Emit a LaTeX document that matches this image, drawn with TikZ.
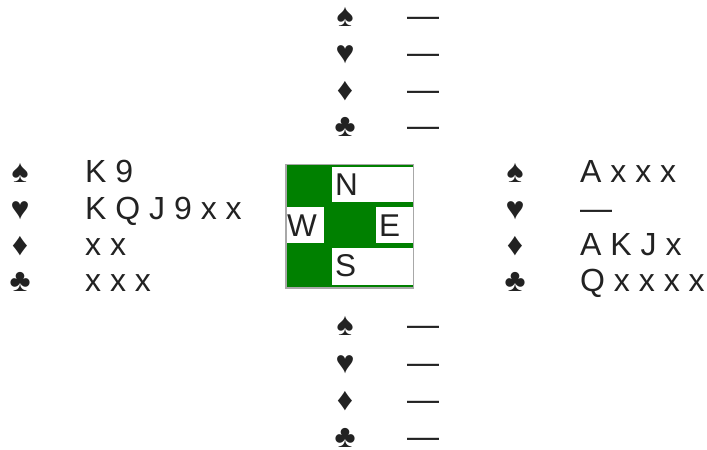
\documentclass[tikz,border=0pt]{standalone}
\usepackage{fontspec}
\setmainfont{Liberation Sans}
\definecolor{ink}{HTML}{222222}
\definecolor{felt}{HTML}{008000}
\definecolor{rim}{HTML}{A8A8A8}
\tikzset{
  suit/.style={anchor=base, inner sep=0pt, text=ink, font=\fontsize{32bp}{38bp}\selectfont},
  cards/.style={anchor=base west, inner sep=0pt, text=ink, font=\fontsize{32bp}{38bp}\selectfont},
  cell/.style={fill=white, draw=none, inner sep=0pt, anchor=north west},
  seat/.style={anchor=base west, inner sep=0pt, text=ink, font=\fontsize{31.5bp}{38bp}\selectfont}
}
\begin{document}
\begin{tikzpicture}[x=1bp,y=-1bp]
\useasboundingbox (0,0) rectangle (707,450);
% compass box
\node[fill=rim, inner sep=0pt, minimum width=129.4bp, minimum height=125.2bp, anchor=north west] (frame) at (284.8,163.6) {};
\node[fill=felt, inner sep=0pt, minimum width=126bp, minimum height=122bp, anchor=north west] (table) at (286.5,165) {};
\node[cell, minimum width=80.8bp, minimum height=35bp] (cN) at (331.7,167.3) {};
\node[cell, minimum width=37.3bp, minimum height=36.6bp] (cW) at (286.7,206.7) {};
\node[cell, minimum width=36.5bp, minimum height=36.6bp] (cE) at (376,206.7) {};
\node[cell, minimum width=80.8bp, minimum height=37.3bp] (cS) at (331.7,247.7) {};
\node[seat] (lN) at (335,195.7) {N};
\node[seat] (lW) at (287,236.7) {W};
\node[seat] (lE) at (379,236.7) {E};
\node[seat] (lS) at (335,276.3) {S};
% North
\node[suit] (ns) at (345,27) {♠};
\node[suit] (nh) at (345,63.7) {♥};
\node[suit] (nd) at (345,100.4) {♦};
\node[suit] (nc) at (345,137) {♣};
\node[cards] (nS) at (407,27) {—};
\node[cards] (nH) at (407,63.7) {—};
\node[cards] (nD) at (407,100.4) {—};
\node[cards] (nC) at (407,137) {—};
% West
\node[suit] (ws) at (20,183) {♠};
\node[suit] (wh) at (20,219.5) {♥};
\node[suit] (wd) at (20,256) {♦};
\node[suit] (wc) at (20,292) {♣};
\node[cards] (wS) at (85,183) {K 9};
\node[cards] (wH) at (85,219.5) {K Q J 9 x x};
\node[cards] (wD) at (85,256) {x x};
\node[cards] (wC) at (85,292) {x x x};
% East
\node[suit] (es) at (515,183) {♠};
\node[suit] (eh) at (515,219.5) {♥};
\node[suit] (ed) at (515,256) {♦};
\node[suit] (ec) at (515,292) {♣};
\node[cards] (eS) at (580,183) {A x x x};
\node[cards] (eH) at (580,219.5) {—};
\node[cards] (eD) at (580,256) {A K J x};
\node[cards] (eC) at (580,292) {Q x x x x};
% South
\node[suit] (ss) at (345,336) {♠};
\node[suit] (sh) at (345,373) {♥};
\node[suit] (sd) at (345,410) {♦};
\node[suit] (sc) at (345,447) {♣};
\node[cards] (sS) at (407,336) {—};
\node[cards] (sH) at (407,373) {—};
\node[cards] (sD) at (407,410) {—};
\node[cards] (sC) at (407,447) {—};
\end{tikzpicture}
\end{document}
